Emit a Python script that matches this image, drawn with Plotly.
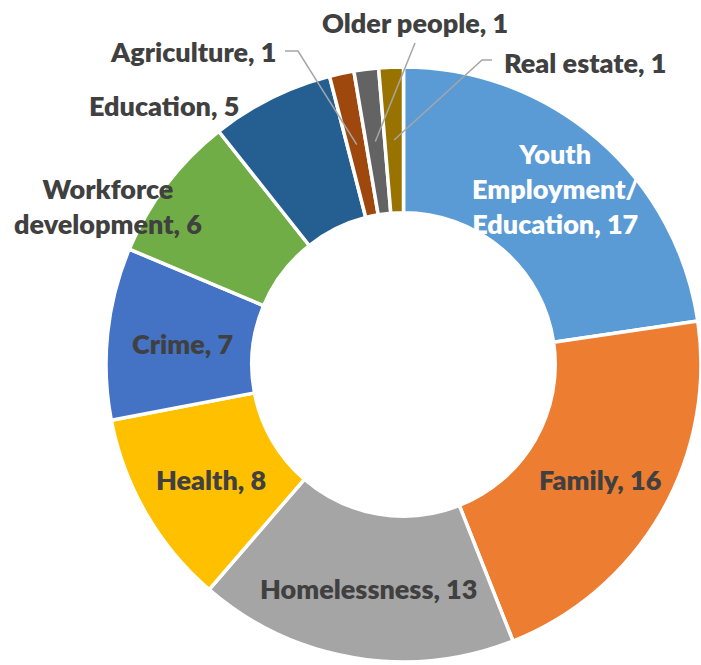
import math
import plotly.graph_objects as go

# ---- data -------------------------------------------------------------
categories = ["Youth Employment/Education", "Family", "Homelessness", "Health", "Crime",
              "Workforce development", "Education", "Agriculture", "Older people", "Real estate"]
counts = [17, 16, 13, 8, 7, 6, 5, 1, 1, 1]
label_lines = ["Youth<br>Employment/<br>Education", "Family", "Homelessness", "Health", "Crime",
               "Workforce<br>development", "Education", "Agriculture", "Older people", "Real estate"]

# ---- style ------------------------------------------------------------
colors = ["#5B9BD5", "#ED7D31", "#A5A5A5", "#FFC000", "#4472C4",
          "#70AD47", "#255E91", "#9E480E", "#636363", "#997300"]
label_colors = ["#FFFFFF"] + ["#404040"] * 9
FONT = "Lato"
FONT_SIZE = 27
FONT_WEIGHT = 800
W, H = 701, 665
DOM_X = [106 / W, 1.0]
DOM_Y = [0.004, 0.90]
HOLE = 0.51

# labels placed outside the ring: pixel anchor + anchor side
outside = {
    "Workforce development": dict(pos=(108, 206), xanchor="center"),
    "Education": dict(pos=(164, 105), xanchor="center"),
    "Agriculture": dict(pos=(278, 52), xanchor="right", leader=[(285, 51), (298, 51)]),
    "Older people": dict(pos=(415, 23), xanchor="center", leader=[(415, 43)]),
    "Real estate": dict(pos=(502, 63), xanchor="left", leader=[(492, 60), (482, 60)]),
}
# offset applied to all in-ring labels, plus per-label nudges (pixels)
RING_OFFSET = (2.5, 2.5)
nudge = {"Youth Employment/Education": (3, -8)}

fig = go.Figure(go.Pie(
    labels=categories,
    values=counts,
    sort=False,
    direction="clockwise",
    rotation=0,
    hole=HOLE,
    textinfo="none",
    marker=dict(colors=colors, line=dict(color="white", width=3.5)),
    domain=dict(x=DOM_X, y=DOM_Y),
    showlegend=False,
))

# pie geometry in pixels (same rule plotly uses for the pie box)
r_out = min(W * (DOM_X[1] - DOM_X[0]), H * (DOM_Y[1] - DOM_Y[0])) / 2
cx = W * (DOM_X[0] + DOM_X[1]) / 2
cy = H * (1 - (DOM_Y[0] + DOM_Y[1]) / 2)
r_mid = r_out * (1 + HOLE) / 2


def to_paper(px, py):
    return px / W, 1 - py / H


total = sum(counts)
cum = 0
annotations = []
shapes = []
for cat, n, txt, tcol in zip(categories, counts, label_lines, label_colors):
    mid = (cum + n / 2) / total * 2 * math.pi
    cum += n
    anchor_px = (cx + r_mid * math.sin(mid), cy - r_mid * math.cos(mid))
    text = f"{txt}, {n}"
    if cat in outside:
        spec = outside[cat]
        x, y = to_paper(*spec["pos"])
        xanchor = spec["xanchor"]
        if "leader" in spec:
            pts = spec["leader"] + [anchor_px]
            path = "M " + " L ".join(f"{to_paper(*p)[0]},{to_paper(*p)[1]}" for p in pts)
            shapes.append(dict(type="path", xref="paper", yref="paper", path=path,
                               line=dict(color="#A6A6A6", width=1.5)))
    else:
        dx, dy = nudge.get(cat, (0, 0))
        x, y = to_paper(anchor_px[0] + RING_OFFSET[0] + dx,
                        anchor_px[1] + RING_OFFSET[1] + dy)
        xanchor = "center"
    annotations.append(dict(
        x=x, y=y, xref="paper", yref="paper", text=text, showarrow=False,
        xanchor=xanchor, yanchor="middle", align="center",
        font=dict(family=FONT, size=FONT_SIZE, color=tcol, weight=FONT_WEIGHT),
    ))

fig.update_layout(
    width=W, height=H,
    margin=dict(l=0, r=0, t=0, b=0),
    paper_bgcolor="white",
    plot_bgcolor="white",
    annotations=annotations,
    shapes=shapes,
)

fig.write_html("out.html")
